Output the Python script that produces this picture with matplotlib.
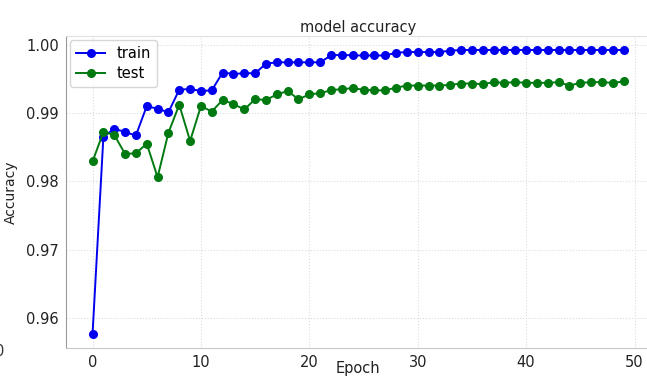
import matplotlib
matplotlib.use('Agg')
import matplotlib.pyplot as plt
import numpy as np

epochs = np.arange(50)

train_acc = [0.9577, 0.9865, 0.9877, 0.9872, 0.9867, 0.9910, 0.9906, 0.9901, 0.9934, 0.9935,
             0.9932, 0.9933, 0.9959, 0.9957, 0.9958, 0.9958, 0.9972, 0.9974, 0.9974, 0.9974,
             0.9974, 0.9974, 0.9984, 0.9985, 0.9984, 0.9984, 0.9984, 0.9984, 0.9988, 0.9989,
             0.9989, 0.9989, 0.9989, 0.9991, 0.9992, 0.9992, 0.9992, 0.9992, 0.9992, 0.9992,
             0.9992, 0.9992, 0.9992, 0.9992, 0.9992, 0.9992, 0.9992, 0.9992, 0.9992, 0.9992]

test_acc = [0.9829, 0.9872, 0.9868, 0.9840, 0.9841, 0.9855, 0.9806, 0.9871, 0.9912, 0.9859,
            0.9910, 0.9902, 0.9919, 0.9913, 0.9905, 0.9920, 0.9919, 0.9927, 0.9932, 0.9920,
            0.9927, 0.9929, 0.9933, 0.9935, 0.9936, 0.9934, 0.9933, 0.9933, 0.9937, 0.9940,
            0.9940, 0.9940, 0.9940, 0.9941, 0.9943, 0.9943, 0.9942, 0.9945, 0.9944, 0.9945,
            0.9944, 0.9944, 0.9944, 0.9945, 0.9940, 0.9944, 0.9945, 0.9945, 0.9944, 0.9946]

plt.rcParams['font.size'] = 10.5

fig = plt.figure(figsize=(6.47, 3.77), dpi=100)
ax = fig.add_axes([0.102, 0.077, 0.903, 0.828])

ax.plot(epochs, train_acc, '-o', color='#0000ee', markersize=5.5, linewidth=1.4, label='train')
ax.plot(epochs, test_acc, '-o', color='#007a10', markersize=5.5, linewidth=1.4, label='test')

ax.set_title('model accuracy', pad=3, fontsize=10.5, color='#222222')
ax.set_xlabel('Epoch', color='#222222')
ax.xaxis.set_label_coords(0.5, -0.042)
ax.set_ylabel('Accuracy', fontsize=10, labelpad=6, color='#222222')

ax.set_xticks([0, 10, 20, 30, 40, 50])
ax.set_yticks([0.96, 0.97, 0.98, 0.99, 1.00])
ax.set_yticklabels(['0.96', '0.97', '0.98', '0.99', '1.00'])
ax.tick_params(length=0, pad=5, colors='#222222')

ax.grid(True, linestyle=':', color='#dcdcdc', linewidth=0.8)
ax.spines['left'].set_color('#999999')
ax.spines['bottom'].set_color('#c8c8c8')
ax.spines['top'].set_color('#e0e0e0')
ax.spines['right'].set_visible(False)

ax.legend(loc='upper left', borderaxespad=0.3, handlelength=2.0,
          labelspacing=0.35, fontsize=10.5)

# tick label from the neighbouring panel, cut by the crop
fig.text(0.0, 1 - 352 / 377, '0', ha='center', va='center', fontsize=10.5, color='#333333')

fig.savefig('out.png', dpi=100)
